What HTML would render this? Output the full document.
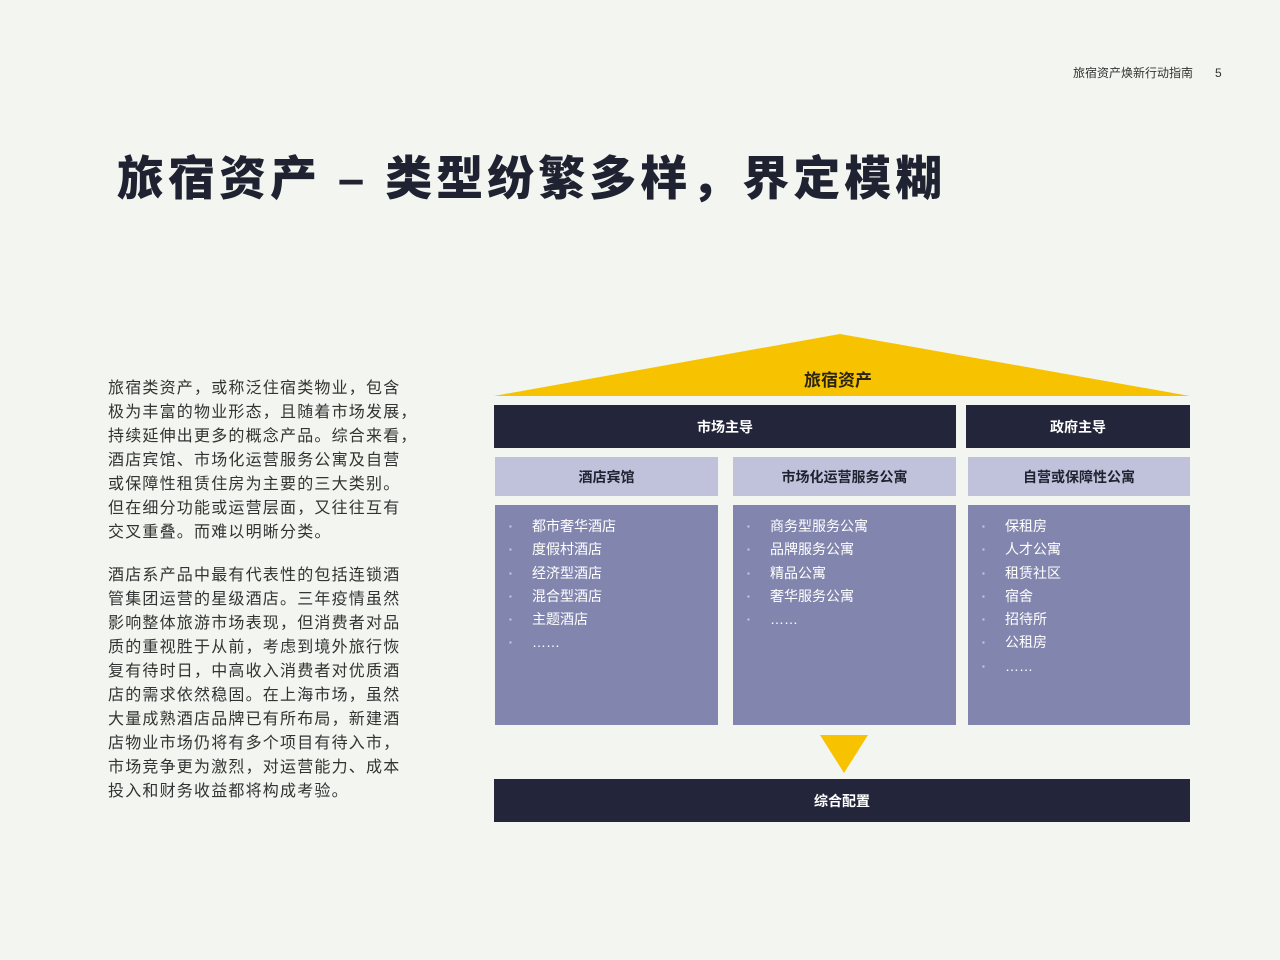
<!DOCTYPE html>
<html><head><meta charset="utf-8"><style>
body{margin:0;width:1280px;height:960px;background:#f3f5f0;position:relative;overflow:hidden;font-family:"Liberation Sans","Noto Sans CJK SC",sans-serif;}
.a{position:absolute;}
.hdr{font-size:12px;color:#333;top:64px;left:1073px;}
h1{position:absolute;left:117px;top:140px;margin:0;font-size:47px;font-weight:900;color:#1f2230;letter-spacing:4px;white-space:nowrap;}
.p{left:108px;font-size:16px;line-height:24px;color:#333;letter-spacing:1.2px;white-space:nowrap;}
.dark{background:#23263a;color:#fff;font-size:14px;font-weight:bold;display:flex;align-items:center;justify-content:center;}
.lt{background:#c0c2dc;color:#1f2230;font-size:14px;font-weight:bold;display:flex;align-items:center;justify-content:center;}
.md{background:#8286ae;color:#fff;font-size:14px;}
.md ul{margin:0;padding:10px 0 0 14px;list-style:none;}
.md li{line-height:22.3px;}
.md li:before{content:"▪";font-size:8px;color:#c8cae0;display:inline-block;width:23px;vertical-align:2px;}
</style></head><body>
<div class="a hdr">旅宿资产焕新行动指南<span style="margin-left:22px">5</span></div>
<h1>旅宿资产 – 类型纷繁多样，界定模糊</h1>
<div class="a p" style="top:377px">旅宿类资产，或称泛住宿类物业，包含<br>极为丰富的物业形态，且随着市场发展，<br>持续延伸出更多的概念产品。综合来看，<br>酒店宾馆、市场化运营服务公寓及自营<br>或保障性租赁住房为主要的三大类别。<br>但在细分功能或运营层面，又往往互有<br>交叉重叠。而难以明晰分类。</div>
<div class="a p" style="top:564px">酒店系产品中最有代表性的包括连锁酒<br>管集团运营的星级酒店。三年疫情虽然<br>影响整体旅游市场表现，但消费者对品<br>质的重视胜于从前，考虑到境外旅行恢<br>复有待时日，中高收入消费者对优质酒<br>店的需求依然稳固。在上海市场，虽然<br>大量成熟酒店品牌已有所布局，新建酒<br>店物业市场仍将有多个项目有待入市，<br>市场竞争更为激烈，对运营能力、成本<br>投入和财务收益都将构成考验。</div>
<svg class="a" style="left:0;top:0" width="1280" height="960">
<polygon points="840,334 1190,396 494,396" fill="#f7c300"/>
<polygon points="820,735 868,735 844,773" fill="#f7c300"/>
</svg>
<div class="a" style="left:804px;top:366px;font-size:17px;font-weight:bold;color:#2a2410">旅宿资产</div>
<div class="a dark" style="left:494px;top:405px;width:462px;height:43px">市场主导</div>
<div class="a dark" style="left:966px;top:405px;width:224px;height:43px">政府主导</div>
<div class="a lt" style="left:495px;top:457px;width:223px;height:39px">酒店宾馆</div>
<div class="a lt" style="left:733px;top:457px;width:223px;height:39px">市场化运营服务公寓</div>
<div class="a lt" style="left:968px;top:457px;width:222px;height:39px">自营或保障性公寓</div>
<div class="a md" style="left:495px;top:505px;width:223px;height:220px"><ul><li>都市奢华酒店</li><li>度假村酒店</li><li>经济型酒店</li><li>混合型酒店</li><li>主题酒店</li><li>……</li></ul></div>
<div class="a md" style="left:733px;top:505px;width:223px;height:220px"><ul><li>商务型服务公寓</li><li>品牌服务公寓</li><li>精品公寓</li><li>奢华服务公寓</li><li>……</li></ul></div>
<div class="a md" style="left:968px;top:505px;width:222px;height:220px"><ul><li>保租房</li><li>人才公寓</li><li>租赁社区</li><li>宿舍</li><li>招待所</li><li>公租房</li><li>……</li></ul></div>
<div class="a dark" style="left:494px;top:779px;width:696px;height:43px">综合配置</div>
</body></html>
